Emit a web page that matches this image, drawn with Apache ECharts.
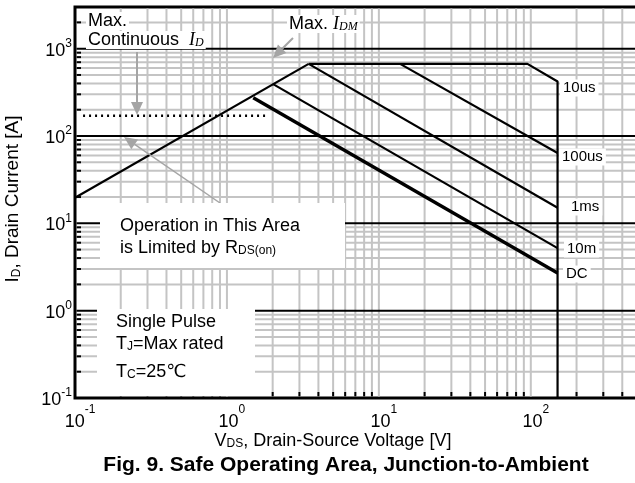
<!DOCTYPE html>
<html lang="en">
<head>
    <meta charset="UTF-8">
    <title>Safe Operating Area</title>
    <script src="https://cdn.jsdelivr.net/npm/echarts@6/dist/echarts.min.js"></script>
    <style>
        body { margin: 0; padding: 0; overflow: hidden; background: #fff; }
    </style>
</head>
<body>
<div id="main" style="width:635px;height:483px;"></div>
<script>
    // curve data, [V_DS (V), I_D (A)]
    var rdsLimit = [[0.1, 19.6], [3.45, 670]];
    var pulse10us = [[3.45, 670], [95, 670], [150, 420], [150, 0.1]];
    var pulse100us = [[13.8, 670], [150, 64]];
    var pulse1ms = [[3.45, 670], [150, 15.1]];
    var pulse10ms = [[2.0, 395], [150, 5.2]];
    var dcLine = [[1.49, 274], [150, 2.7]];
    var maxContinuous = [[0.113, 171], [1.84, 171]];
    var curveLabels = ['10us', '100us', '1ms', '10m', 'DC'];

    var xMin = 0.1, xMax = 500, yMin = 0.1, yMax = 3000;
    var FONT = 'Liberation Sans, Arial, DejaVu Sans, sans-serif';

    // grid line positions (1..9 x decade)
    var xGrid = [], yGrid = [];
    for (var d = -1; d <= 3; d++) {
        for (var m = 1; m <= 9; m++) {
            var v = m * Math.pow(10, d);
            if (v > xMin * 1.0001 && v < xMax * 0.999) xGrid.push(v);
            if (v > yMin * 1.0001 && v < yMax * 0.999) yGrid.push(v);
        }
    }
    function isDecade(v) {
        var l = Math.log10(v);
        return Math.abs(l - Math.round(l)) < 1e-6;
    }

    var app = echarts.init(document.getElementById('main'));

    var supRich = {
        b: { fontSize: 18, fontFamily: FONT, color: '#000', lineHeight: 22, verticalAlign: 'bottom' },
        s: { fontSize: 12, fontFamily: FONT, color: '#000', lineHeight: 12, verticalAlign: 'top' }
    };
    var supRichX = {
        b: { fontSize: 18, fontFamily: FONT, color: '#000', lineHeight: 27, verticalAlign: 'bottom' },
        s: { fontSize: 12, fontFamily: FONT, color: '#000', lineHeight: 12, verticalAlign: 'top' }
    };
    function powLabel(v) {
        if (!isDecade(v)) return '';
        return '{b|10}{s|' + Math.round(Math.log10(v)) + '}';
    }

    function arrow(x1, y1, x2, y2, w) {
        var a = Math.atan2(y2 - y1, x2 - x1);
        var L = 13, W = 6;
        var bx = x2 - L * Math.cos(a), by = y2 - L * Math.sin(a);
        return [{
            type: 'line', z: 20,
            shape: { x1: x1, y1: y1, x2: bx, y2: by },
            style: { stroke: '#a5a5a5', lineWidth: w }
        }, {
            type: 'polygon', z: 20,
            shape: { points: [[x2, y2], [bx - W * Math.sin(a), by + W * Math.cos(a)], [bx + W * Math.sin(a), by - W * Math.cos(a)]] },
            style: { fill: '#a5a5a5' }
        }];
    }
    function txt(x, y, text, size, extra) {
        var st = { text: text, fontSize: size, fontFamily: FONT, fill: '#000', verticalAlign: 'middle', align: 'left' };
        for (var k in extra) st[k] = extra[k];
        return { type: 'text', z: 30, x: x, y: y, style: st };
    }
    var subRich = {
        sub: { fontSize: 12, fontFamily: FONT, verticalAlign: 'bottom', lineHeight: 12, padding: [8, 0, 0, 0] },
        it: { fontSize: 18, fontFamily: 'Liberation Serif, Times New Roman, serif', fontStyle: 'italic', lineHeight: 18 },
        itsub: { fontSize: 12, fontFamily: 'Liberation Serif, Times New Roman, serif', fontStyle: 'italic', verticalAlign: 'bottom', lineHeight: 12, padding: [8, 0, 0, 0] }
    };

    var graphics = [];
    // boxes
    graphics.push({ type: 'rect', z: 25, shape: { x: 100, y: 203, width: 245, height: 65 }, style: { fill: '#fff' } });
    graphics.push({ type: 'rect', z: 25, shape: { x: 97, y: 309, width: 158, height: 87 }, style: { fill: '#fff' } });
    graphics.push(txt(120, 226, 'Operation in This Area', 18));
    graphics.push(txt(120, 248, 'is Limited by R{sub|DS(on)}', 18, { rich: subRich }));
    graphics.push(txt(116, 322, 'Single Pulse', 18));
    graphics.push(txt(116, 344, 'T{sub|J}=Max rated', 18, { rich: subRich }));
    graphics.push(txt(116, 372, 'T{sub|C}=25\u2103', 18, { rich: subRich }));
    graphics.push(txt(86, 21, 'Max.', 18, { backgroundColor: '#fff', padding: [0, 2] }));
    graphics.push(txt(86, 40, 'Continuous  {it|I}{itsub|D}', 18, { rich: subRich, backgroundColor: '#fff', padding: [0, 2] }));
    graphics.push(txt(287, 24, 'Max. {it|I}{itsub|DM}', 18, { rich: subRich, backgroundColor: '#fff', padding: [0, 2] }));
    // curve labels
    var labelPos = [[560, 88], [559, 157], [568, 207], [564, 249], [563, 274]];
    for (var i = 0; i < curveLabels.length; i++) {
        graphics.push(txt(labelPos[i][0], labelPos[i][1], curveLabels[i], 15, { backgroundColor: '#fff', padding: [1, 3] }));
    }
    // arrows
    graphics = graphics.concat(arrow(137, 52, 137, 115, 2));
    graphics = graphics.concat(arrow(293, 38, 273, 58, 2));
    graphics = graphics.concat(arrow(220, 203, 124, 137, 1.5));
    // axis titles
    graphics.push({
        type: 'text', z: 30, x: 13, y: 199, rotation: Math.PI / 2,
        style: { text: 'I{sub|D}, Drain Current [A]', fontSize: 19, fontFamily: FONT, fill: '#000', align: 'center', verticalAlign: 'middle',
            rich: { sub: { fontSize: 12, fontFamily: FONT, verticalAlign: 'bottom', lineHeight: 12, padding: [8, 0, 0, 0] } } }
    });
    graphics.push({
        type: 'text', z: 30, x: 333, y: 441,
        style: { text: 'V{sub|DS}, Drain-Source Voltage [V]', fontSize: 18, fontFamily: FONT, fill: '#000', align: 'center', verticalAlign: 'middle',
            rich: { sub: { fontSize: 12, fontFamily: FONT, verticalAlign: 'bottom', lineHeight: 12, padding: [8, 0, 0, 0] } } }
    });
    graphics.push({
        type: 'text', z: 30, x: 346, y: 465,
        style: { text: 'Fig. 9. Safe Operating Area, Junction-to-Ambient', fontSize: 21, fontWeight: 'bold', fontFamily: FONT, fill: '#000', align: 'center', verticalAlign: 'middle' }
    });

    function curve(name, data, width, type) {
        return {
            name: name, type: 'line', data: data, z: 5, showSymbol: false, symbol: 'none',
            lineStyle: { color: '#000', width: width, type: type || 'solid' },
            animation: false, silent: true
        };
    }

    option = {
        animation: false,
        backgroundColor: '#fff',
        grid: {
            left: 75, top: 7, width: 562, bottom: 85,
            outerBoundsMode: 'none', containLabel: false,
            show: true, borderColor: '#000', borderWidth: 3, backgroundColor: '#fff'
        },
        xAxis: {
            type: 'log', logBase: 10, min: xMin, max: xMax,
            axisLine: { show: false }, axisTick: { show: false }, splitLine: { show: false },
            axisLabel: { formatter: powLabel, rich: supRichX, margin: 6, padding: [0, 0, 0, 10], showMinLabel: true, showMaxLabel: true }
        },
        yAxis: {
            type: 'log', logBase: 10, min: yMin, max: yMax,
            axisLine: { show: false }, axisTick: { show: false }, splitLine: { show: false },
            axisLabel: { formatter: powLabel, rich: supRich, margin: 3, showMinLabel: true, showMaxLabel: true }
        },
        graphic: graphics,
        series: [{
            type: 'custom', z: 1, silent: true,
            data: xGrid.map(function (v) { return [v, yMin]; }),
            renderItem: function (params, api) {
                var v = api.value(0);
                var b = api.coord([v, yMin]), t = api.coord([v, yMax]);
                var ch = [{ type: 'line', shape: { x1: b[0], y1: b[1] - 1.5, x2: t[0], y2: t[1] + 1.5 }, style: { stroke: '#c4c4c4', lineWidth: 2 } }];
                if (!isDecade(v)) ch.push({ type: 'line', z2: 5, shape: { x1: b[0], y1: b[1] - 1.5, x2: b[0], y2: b[1] - 6 }, style: { stroke: '#000', lineWidth: 2 } });
                return { type: 'group', children: ch };
            }
        }, {
            type: 'custom', z: 2, silent: true,
            data: yGrid.map(function (v) { return [xMin, v]; }),
            renderItem: function (params, api) {
                var v = api.value(1);
                var l = api.coord([xMin, v]), r = api.coord([xMax, v]);
                var dec = isDecade(v);
                var ch = [{ type: 'line', shape: { x1: l[0] + 1.5, y1: l[1], x2: r[0], y2: r[1] }, style: { stroke: dec ? '#000' : '#c4c4c4', lineWidth: 2 } }];
                if (!dec) ch.push({ type: 'line', shape: { x1: l[0] + 1.5, y1: l[1], x2: l[0] + 6, y2: l[1] }, style: { stroke: '#000', lineWidth: 2 } });
                return { type: 'group', children: ch };
            }
        },
            curve('RDS(on) limit', rdsLimit, 2.2),
            curve(curveLabels[0], pulse10us, 2.2),
            curve(curveLabels[1], pulse100us, 2.2),
            curve(curveLabels[2], pulse1ms, 2.2),
            curve(curveLabels[3], pulse10ms, 2.2),
            curve(curveLabels[4], dcLine, 3.4),
            curve('Max. continuous', maxContinuous, 2.5, [2, 4])
        ]
    };
    app.setOption(option);
</script>
</body>
</html>
